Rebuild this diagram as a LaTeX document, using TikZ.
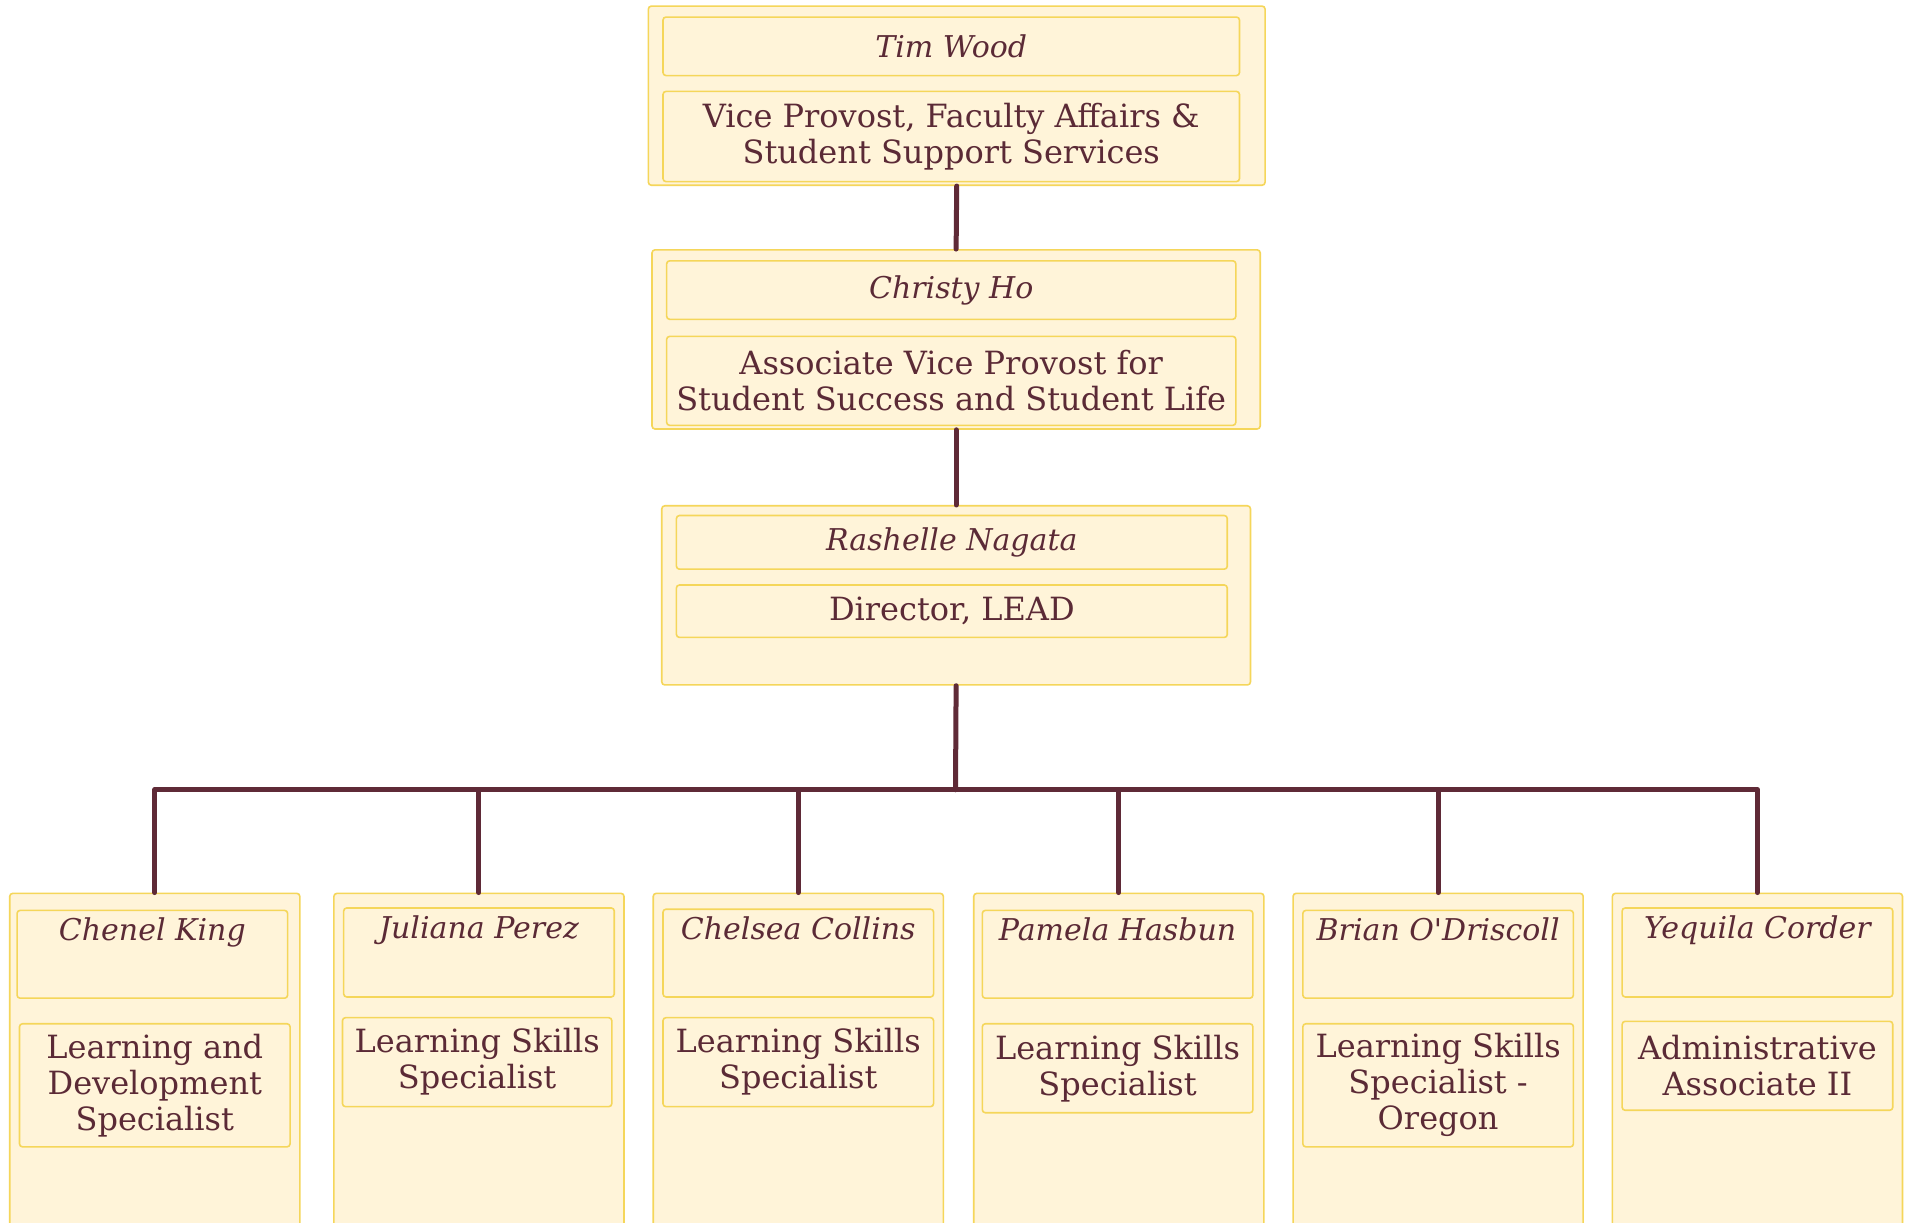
\documentclass[tikz,border=0pt]{standalone}
\usepackage{fontspec}
\setmainfont{DejaVu Serif}
\definecolor{boxfill}{HTML}{FFF4D9}
\definecolor{boxline}{HTML}{F5D65A}
\definecolor{inkc}{HTML}{5B2A36}
\definecolor{linkc}{HTML}{5F2A37}
\newcommand\obox[7]{%
  \pgfmathsetmacro\bxw{(#4-#2)*1.21875}%
  \pgfmathsetmacro\bxh{(#5-#3)*1.21875}%
  \node[#6, minimum width=\bxw pt, minimum height=\bxh pt] (#1) at ({(#2+#4)/2},{(#3+#5)/2}) {#7};}
\tikzset{
  outerbox/.style={draw=boxline, fill=boxfill, rounded corners=3pt, line width=1.6pt, inner sep=0pt},
  innerbox/.style={draw=boxline, fill=boxfill, rounded corners=3pt, line width=1.6pt, inner sep=0pt},
  titletext/.style={text=inkc, align=center, font=\fontsize{32}{36}\selectfont},
  nametext/.style={text=inkc, align=center, font=\fontsize{30}{34}\selectfont\itshape},
  toplabel/.style={label={[anchor=north, yshift=-5pt, nametext]north:#1}},
  conn/.style={draw=linkc, line width=5pt, line join=round, line cap=round}
}
\begin{document}
\begin{tikzpicture}[x=1.21875pt, y=-1.21875pt]
\useasboundingbox (0,0) rectangle (1568,1003);
\clip (0,0) rectangle (1568,1003);
\fill[white] (0,0) rectangle (1568,1003);
% top chain
\obox{a}{532}{5}{1038}{152}{outerbox}{}
\obox{an}{544}{14}{1017}{62}{innerbox, nametext}{Tim Wood}
\obox{at}{544}{75}{1017}{149}{innerbox, titletext}{Vice Provost, Faculty Affairs \&\\Student Support Services}
\obox{b}{535}{205}{1034}{352}{outerbox}{}
\obox{bn}{547}{214}{1014}{262}{innerbox, nametext}{Christy Ho}
\obox{bt}{547}{276}{1014}{349}{innerbox, titletext}{Associate Vice Provost for\\Student Success and Student Life}
\obox{c}{543}{415}{1026}{562}{outerbox}{}
\obox{cn}{555}{423}{1007}{467}{innerbox, nametext}{Rashelle Nagata}
\obox{ct}{555}{480}{1007}{523}{innerbox, titletext}{Director, LEAD}
% bottom row
\obox{d1}{8}{733}{246}{1012}{outerbox}{}
\obox{d1n}{14}{747}{236}{819}{innerbox, toplabel={Chenel King}}{}
\obox{d1t}{16}{840}{238}{941}{innerbox, titletext}{Learning and\\Development\\Specialist}
\obox{d2}{274}{733}{512}{1012}{outerbox}{}
\obox{d2n}{282}{745}{504}{818}{innerbox, toplabel={Juliana Perez}}{}
\obox{d2t}{281}{835}{502}{908}{innerbox, titletext}{Learning Skills\\Specialist}
\obox{d3}{536}{733}{774}{1012}{outerbox}{}
\obox{d3n}{544}{746}{766}{818}{innerbox, toplabel={Chelsea Collins}}{}
\obox{d3t}{544}{835}{766}{908}{innerbox, titletext}{Learning Skills\\Specialist}
\obox{d4}{799}{733}{1037}{1012}{outerbox}{}
\obox{d4n}{806}{747}{1028}{819}{innerbox, toplabel={Pamela Hasbun}}{}
\obox{d4t}{806}{840}{1028}{913}{innerbox, titletext}{Learning Skills\\Specialist}
\obox{d5}{1061}{733}{1299}{1012}{outerbox}{}
\obox{d5n}{1069}{747}{1291}{819}{innerbox, toplabel={Brian O\textquotesingle Driscoll}}{}
\obox{d5t}{1069}{840}{1291}{941}{innerbox, titletext}{Learning Skills\\Specialist -\\Oregon}
\obox{d6}{1323}{733}{1561}{1012}{outerbox}{}
\obox{d6n}{1331}{745}{1553}{818}{innerbox, toplabel={Yequila Corder}}{}
\obox{d6t}{1331}{838}{1553}{911}{innerbox, titletext}{Administrative\\Associate II}
% connectors
\coordinate (bus) at (784,648);
\draw[conn] (a.south) -- (b.north);
\draw[conn] (b.south) -- (c.north);
\draw[conn] (c.south) -- (bus);
\foreach \k in {1,...,6} { \draw[conn] (bus) -| (d\k.north); }
\end{tikzpicture}
\end{document}
